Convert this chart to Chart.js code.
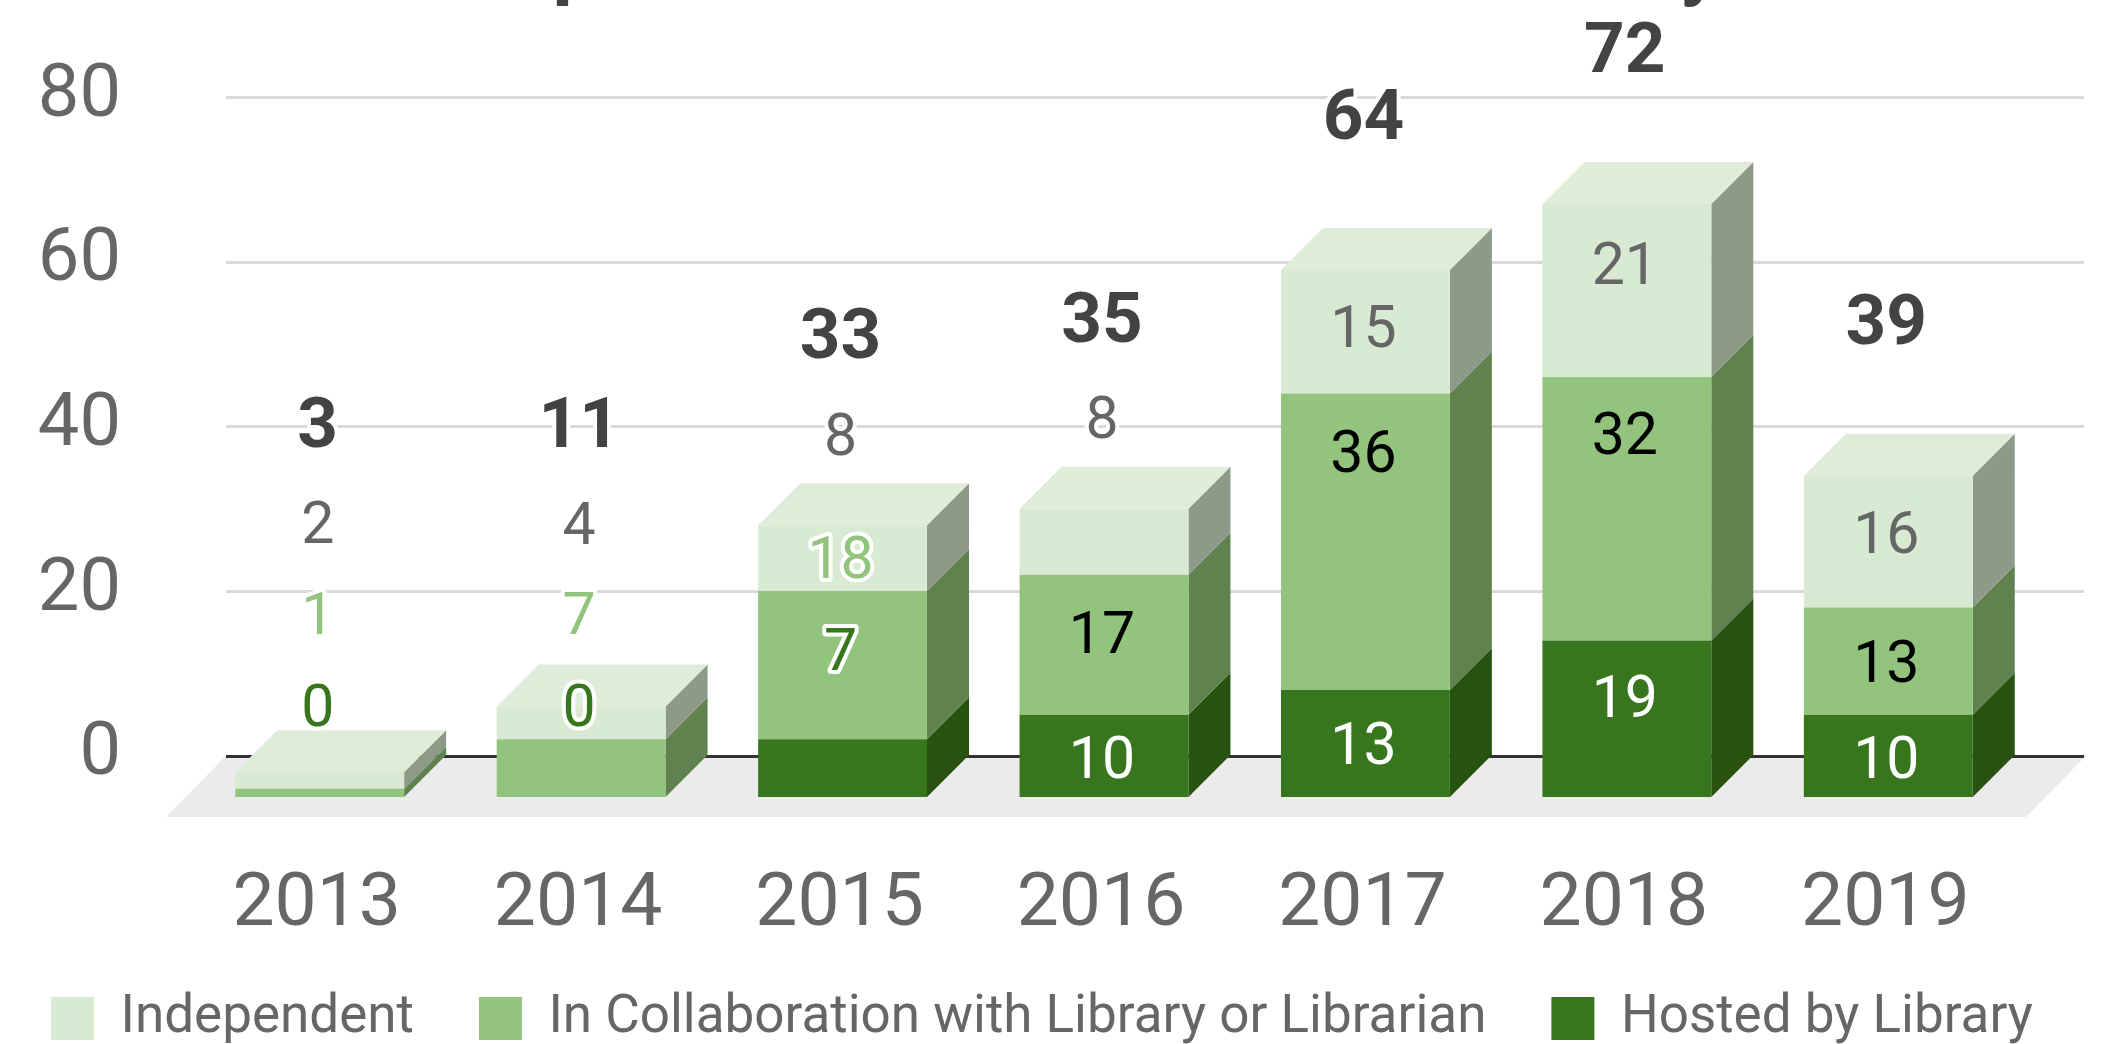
<!DOCTYPE html>
<html>
<head>
<meta charset="utf-8">
<style>
    html, body { margin: 0; padding: 0; background: #fff; }
    #chart-box { width: 2106px; height: 1044px; }
</style>
<script src="https://cdn.jsdelivr.net/npm/chart.js@4"></script>
</head>
<body>
<div id="chart-box"><canvas id="chart"></canvas></div>
<script>
const years = ['2013', '2014', '2015', '2016', '2017', '2018', '2019'];
const hosted = [0, 0, 7, 10, 13, 19, 10];
const collaboration = [1, 7, 18, 17, 36, 32, 13];
const independent = [2, 4, 8, 8, 15, 21, 16];
const totals = [3, 11, 33, 35, 64, 72, 39];

// the labels do not sit in the middle of their segments, so each one gets a nudge (px)
const hostedNudge = [-86, -86, -113, 7, 6, -17, 7];
const collaborationNudge = [-174, -149, -102, -6, -84, -70, 6];
const independentNudge = [-252, -194, -118, -118, 1, -21, -3];
const totalNudge = [-343, -277, -185, -185, -149, -150, -150];

const depth = 42;
const fontName = 'Roboto';

// front colour, side colour, label colour inside the bar, label colour outside
const seriesStyle = [
    { front: '#38761d', side: '#27520f', inside: '#ffffff', outside: '#38761d', nudge: hostedNudge },
    { front: '#93c47d', side: '#5f824f', inside: '#000000', outside: '#93c47d', nudge: collaborationNudge },
    { front: '#d9ead3', side: '#8c9a87', inside: '#666666', outside: '#666666', nudge: independentNudge },
];

function fillShape(ctx, color, points) {
    ctx.fillStyle = color;
    ctx.beginPath();
    ctx.moveTo(points[0][0], points[0][1]);
    for (let i = 1; i < points.length; i++) {
        ctx.lineTo(points[i][0], points[i][1]);
    }
    ctx.closePath();
    ctx.fill();
}

function drawLabel(ctx, text, x, y, color, halo) {
    if (halo) {
        ctx.strokeStyle = '#ffffff';
        ctx.lineWidth = 8;
        ctx.lineJoin = 'round';
        ctx.strokeText(text, x, y);
    }
    ctx.fillStyle = color;
    ctx.fillText(text, x, y);
}

const depthPlugin = {
    id: 'depth',
    beforeDatasetsDraw(chart) {
        let ctx = chart.ctx;
        let area = chart.chartArea;
        let y = chart.scales.y;
        let zero = y.getPixelForValue(0);
        ctx.save();
        // floor
        fillShape(ctx, '#ebebeb', [
            [226, zero], [2086, zero], [2026, area.bottom + 20], [166, area.bottom + 20],
        ]);
        // grid lines live on the back wall
        y.ticks.forEach(t => {
            let py = Math.round(y.getPixelForValue(t.value));
            ctx.fillStyle = t.value === 0 ? '#333333' : '#d9d9d9';
            ctx.fillRect(226, py - 1, 1858, 3);
        });
        // sides and tops of the columns
        chart.data.datasets.forEach((ds, d) => {
            let bars = chart.getDatasetMeta(d).data;
            bars.forEach((bar, i) => {
                if (ds.data[i] === 0) return;
                let right = bar.x + bar.width / 2;
                fillShape(ctx, seriesStyle[d].side, [
                    [right, bar.base], [right + depth, bar.base - depth],
                    [right + depth, bar.y - depth], [right, bar.y],
                ]);
            });
        });
        let topBars = chart.getDatasetMeta(2).data;
        topBars.forEach(bar => {
            let left = bar.x - bar.width / 2;
            let right = bar.x + bar.width / 2;
            fillShape(ctx, '#dfecda', [
                [left, bar.y], [right, bar.y], [right + depth, bar.y - depth], [left + depth, bar.y - depth],
            ]);
        });
        ctx.restore();
    },
    afterDatasetsDraw(chart) {
        let ctx = chart.ctx;
        ctx.save();
        ctx.textAlign = 'center';
        ctx.textBaseline = 'middle';

        ctx.font = '59px ' + fontName;
        chart.data.datasets.forEach((ds, d) => {
            let style = seriesStyle[d];
            chart.getDatasetMeta(d).data.forEach((bar, i) => {
                let top = Math.min(bar.y, bar.base);
                let bottom = Math.max(bar.y, bar.base);
                let y = (top + bottom) / 2 + style.nudge[i];
                let inside = y > top && y < bottom;
                drawLabel(ctx, String(ds.data[i]), bar.x - 2, y, inside ? style.inside : style.outside, !inside);
            });
        });

        ctx.font = 'bold 71px ' + fontName;
        chart.getDatasetMeta(2).data.forEach((bar, i) => {
            drawLabel(ctx, String(totals[i]), bar.x - 2, bar.y + totalNudge[i], '#434343', true);
        });

        // only the descenders of the cropped title show at the top edge
        ctx.font = 'bold 80px ' + fontName;
        ctx.textBaseline = 'alphabetic';
        ctx.fillStyle = '#434343';
        ctx.fillText('p', 575, -10);
        ctx.fillText('y', 1700, -10);
        ctx.restore();
    },
};

Chart.defaults.font.family = fontName;
Chart.defaults.color = '#666666';

let ctx = document.getElementById('chart').getContext('2d');
let myChart = new Chart(ctx, {
    type: 'bar',
    plugins: [depthPlugin],
    data: {
        labels: years,
        datasets: [
            { label: 'Hosted by Library', data: hosted, backgroundColor: seriesStyle[0].front, yAxisID: 'bars' },
            { label: 'In Collaboration with Library or Librarian', data: collaboration, backgroundColor: seriesStyle[1].front, yAxisID: 'bars' },
            { label: 'Independent', data: independent, backgroundColor: seriesStyle[2].front, yAxisID: 'bars' },
        ],
    },
    options: {
        responsive: true,
        maintainAspectRatio: false,
        animation: false,
        devicePixelRatio: 1,
        barPercentage: 1,
        categoryPercentage: 0.646,
        layout: { padding: { left: -14, top: 97, right: 0, bottom: -11 } },
        plugins: {
            tooltip: { enabled: false },
            legend: {
                position: 'bottom',
                align: 'start',
                reverse: true,
                labels: {
                    boxWidth: 43,
                    boxHeight: 43,
                    padding: 65,
                    color: '#666666',
                    font: { size: 53, family: fontName },
                },
            },
        },
        scales: {
            x: {
                stacked: true,
                grid: { display: false },
                border: { display: false },
                ticks: { padding: 56, labelOffset: -3, color: '#666666', font: { size: 75 }, maxRotation: 0 },
                afterFit(scale) { scale.height = 130; },
            },
            // the value axis belongs to the back wall, so it starts 5 units under the floor line
            y: {
                position: 'left',
                min: -5,
                max: 80,
                grid: { display: false },
                border: { display: false },
                ticks: { stepSize: 20, includeBounds: false, padding: 60, color: '#666666', font: { size: 74 } },
                afterFit(scale) {
                    scale.width = 203;
                    // tick padding would otherwise push the chart area down
                    scale.paddingTop = 0;
                    scale.paddingBottom = 0;
                },
            },
            bars: {
                position: 'right',
                stacked: true,
                min: 0,
                max: 85,
                grid: { display: false },
                border: { display: false },
                ticks: { display: false },
                afterFit(scale) { scale.width = 87; },
            },
        },
    },
});
</script>
</body>
</html>
